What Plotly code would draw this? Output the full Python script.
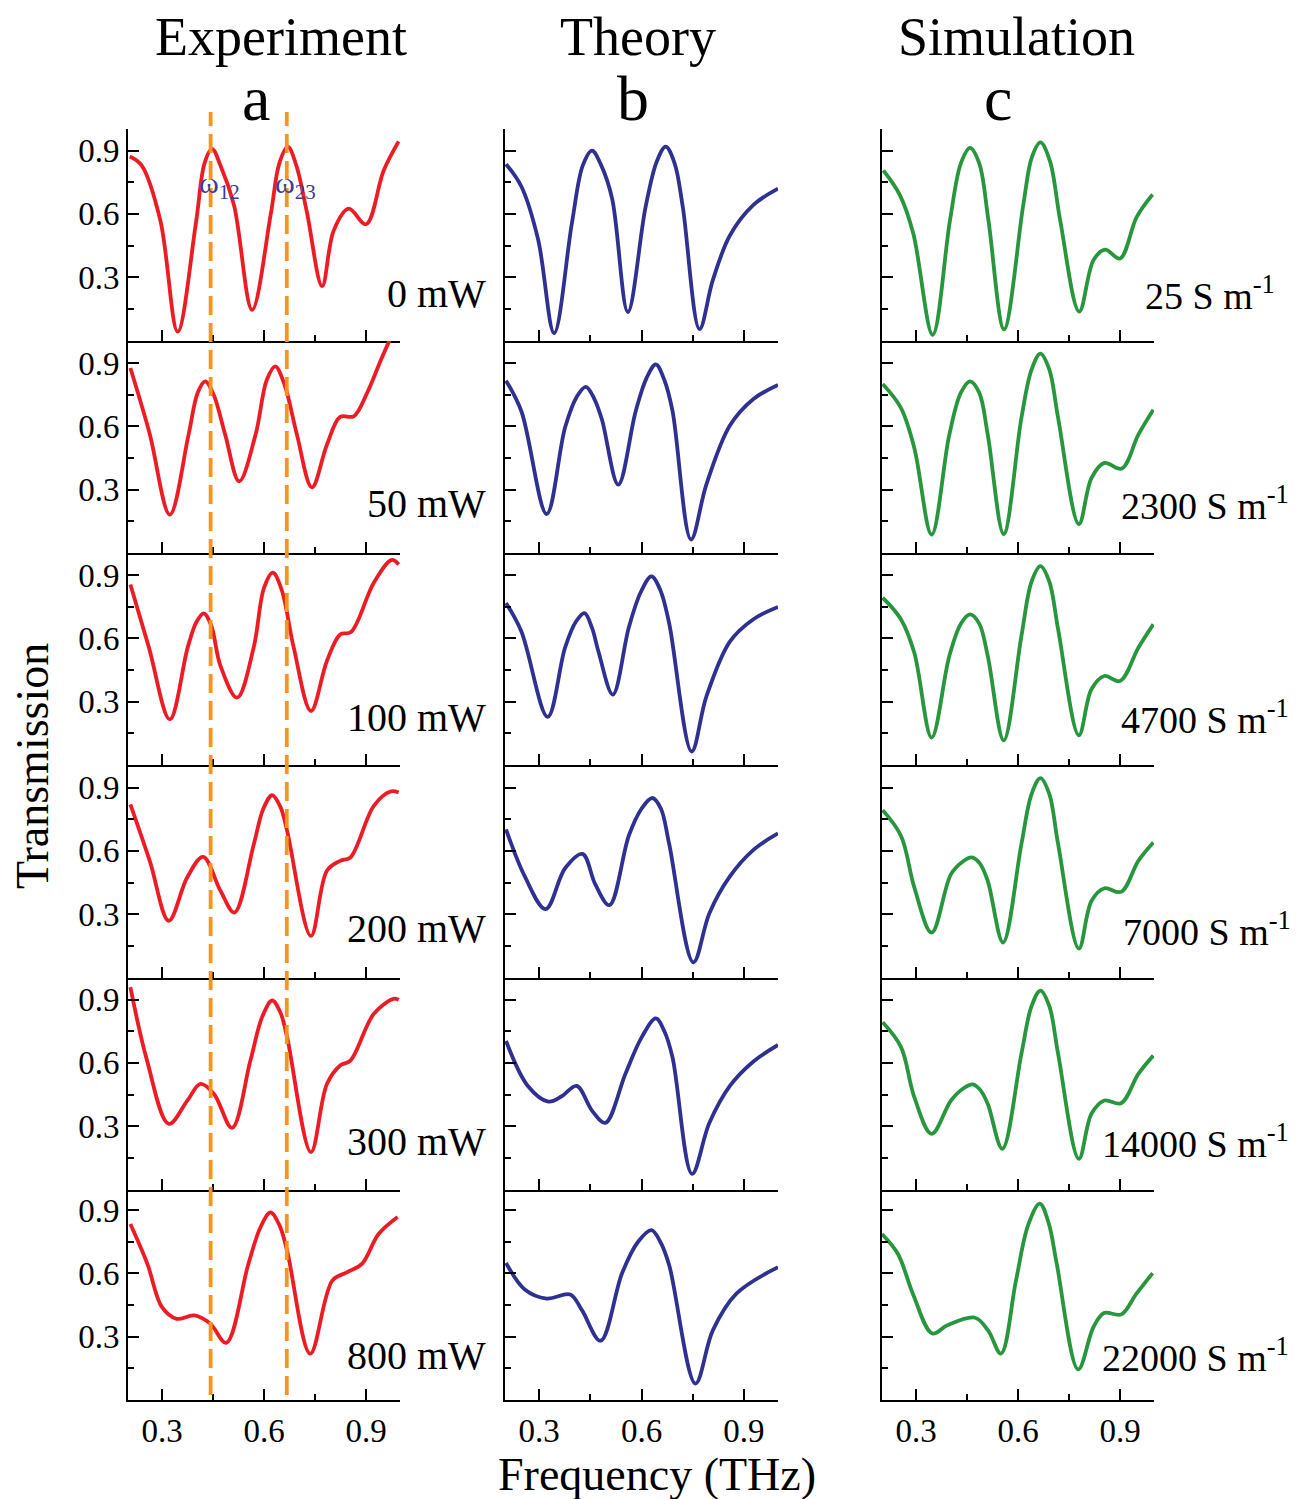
import plotly.graph_objects as go

# ---------------- data ----------------
# Column a: Experiment (frequency in THz, transmission)
exp_0_f = [0.205, 0.240, 0.295, 0.346, 0.400, 0.425, 0.447, 0.472, 0.512, 0.565, 0.620, 0.645, 0.670, 0.695, 0.726, 0.771, 0.805, 0.849, 0.900, 0.952, 0.996]
exp_0_t = [0.872, 0.830, 0.570, 0.042, 0.560, 0.840, 0.908, 0.830, 0.640, 0.145, 0.600, 0.840, 0.919, 0.830, 0.610, 0.258, 0.522, 0.625, 0.551, 0.806, 0.944]
exp_50_f = [0.207, 0.263, 0.323, 0.378, 0.405, 0.427, 0.452, 0.486, 0.527, 0.575, 0.608, 0.633, 0.660, 0.697, 0.741, 0.785, 0.824, 0.864, 0.903, 0.942, 0.975]
exp_50_t = [0.877, 0.570, 0.182, 0.560, 0.760, 0.814, 0.750, 0.560, 0.340, 0.560, 0.820, 0.885, 0.800, 0.560, 0.311, 0.513, 0.645, 0.648, 0.758, 0.908, 1.030]
exp_100_f = [0.207, 0.261, 0.323, 0.376, 0.402, 0.423, 0.445, 0.472, 0.521, 0.570, 0.600, 0.626, 0.652, 0.687, 0.738, 0.785, 0.824, 0.856, 0.923, 0.976, 0.996]
exp_100_t = [0.856, 0.560, 0.216, 0.560, 0.680, 0.719, 0.660, 0.470, 0.319, 0.560, 0.840, 0.912, 0.830, 0.560, 0.256, 0.493, 0.619, 0.630, 0.864, 0.972, 0.951]
exp_200_f = [0.207, 0.264, 0.320, 0.374, 0.421, 0.472, 0.513, 0.570, 0.598, 0.624, 0.648, 0.668, 0.738, 0.785, 0.824, 0.854, 0.923, 0.972, 0.996]
exp_200_t = [0.821, 0.553, 0.269, 0.474, 0.572, 0.411, 0.308, 0.632, 0.800, 0.864, 0.810, 0.695, 0.197, 0.506, 0.553, 0.569, 0.814, 0.882, 0.877]
exp_300_f = [0.207, 0.256, 0.320, 0.374, 0.413, 0.453, 0.506, 0.560, 0.595, 0.624, 0.648, 0.668, 0.738, 0.785, 0.824, 0.854, 0.923, 0.981, 0.996]
exp_300_t = [0.959, 0.611, 0.311, 0.420, 0.501, 0.453, 0.292, 0.611, 0.820, 0.896, 0.840, 0.722, 0.177, 0.500, 0.588, 0.611, 0.833, 0.904, 0.899]
exp_800_f = [0.207, 0.257, 0.300, 0.343, 0.395, 0.442, 0.489, 0.554, 0.590, 0.619, 0.645, 0.668, 0.736, 0.801, 0.845, 0.888, 0.937, 0.993]
exp_800_t = [0.834, 0.645, 0.440, 0.385, 0.401, 0.362, 0.271, 0.645, 0.820, 0.889, 0.830, 0.708, 0.220, 0.566, 0.606, 0.645, 0.787, 0.868]

# Column b: Theory
th_0_f = [0.203, 0.248, 0.297, 0.344, 0.396, 0.428, 0.455, 0.482, 0.514, 0.560, 0.612, 0.645, 0.671, 0.697, 0.721, 0.770, 0.809, 0.859, 0.928, 1.000]
th_0_t = [0.836, 0.730, 0.479, 0.035, 0.556, 0.830, 0.900, 0.830, 0.672, 0.135, 0.633, 0.850, 0.919, 0.840, 0.633, 0.054, 0.286, 0.498, 0.643, 0.720]
th_50_f = [0.203, 0.248, 0.322, 0.376, 0.410, 0.437, 0.462, 0.484, 0.532, 0.583, 0.615, 0.642, 0.667, 0.691, 0.745, 0.790, 0.859, 0.928, 1.000]
th_50_t = [0.817, 0.672, 0.185, 0.595, 0.740, 0.788, 0.730, 0.633, 0.324, 0.672, 0.830, 0.894, 0.820, 0.672, 0.064, 0.324, 0.604, 0.730, 0.797]
th_100_f = [0.203, 0.248, 0.325, 0.376, 0.408, 0.433, 0.455, 0.474, 0.516, 0.563, 0.598, 0.629, 0.655, 0.681, 0.747, 0.790, 0.859, 0.928, 1.000]
th_100_t = [0.768, 0.633, 0.228, 0.556, 0.680, 0.720, 0.650, 0.537, 0.334, 0.653, 0.820, 0.894, 0.830, 0.672, 0.064, 0.324, 0.585, 0.691, 0.749]
th_200_f = [0.203, 0.258, 0.319, 0.376, 0.427, 0.465, 0.506, 0.563, 0.600, 0.632, 0.657, 0.681, 0.752, 0.799, 0.859, 0.928, 1.000]
th_200_t = [0.702, 0.479, 0.324, 0.518, 0.586, 0.440, 0.343, 0.673, 0.800, 0.851, 0.800, 0.634, 0.072, 0.305, 0.479, 0.605, 0.683]
th_300_f = [0.203, 0.267, 0.327, 0.366, 0.410, 0.455, 0.494, 0.553, 0.600, 0.642, 0.667, 0.691, 0.748, 0.799, 0.859, 0.928, 1.000]
th_300_t = [0.704, 0.491, 0.417, 0.442, 0.491, 0.374, 0.316, 0.549, 0.720, 0.811, 0.750, 0.626, 0.074, 0.316, 0.491, 0.607, 0.685]
th_800_f = [0.203, 0.258, 0.322, 0.391, 0.425, 0.480, 0.543, 0.590, 0.629, 0.655, 0.681, 0.758, 0.809, 0.878, 1.000]
th_800_t = [0.650, 0.524, 0.481, 0.500, 0.427, 0.281, 0.601, 0.750, 0.805, 0.750, 0.640, 0.078, 0.330, 0.504, 0.630]

# Column c: Simulation
sim_25_f = [0.204, 0.253, 0.292, 0.349, 0.400, 0.432, 0.459, 0.486, 0.513, 0.559, 0.616, 0.641, 0.666, 0.694, 0.724, 0.780, 0.822, 0.856, 0.900, 0.949, 0.996]
sim_25_t = [0.806, 0.688, 0.507, 0.027, 0.570, 0.840, 0.913, 0.840, 0.570, 0.053, 0.648, 0.870, 0.939, 0.850, 0.570, 0.137, 0.381, 0.431, 0.389, 0.585, 0.692]
sim_2300_f = [0.202, 0.256, 0.295, 0.346, 0.398, 0.432, 0.459, 0.486, 0.511, 0.558, 0.610, 0.640, 0.666, 0.692, 0.718, 0.779, 0.816, 0.854, 0.905, 0.954, 0.998]
sim_2300_t = [0.801, 0.687, 0.498, 0.087, 0.561, 0.760, 0.814, 0.760, 0.561, 0.090, 0.640, 0.870, 0.945, 0.870, 0.640, 0.137, 0.355, 0.427, 0.400, 0.561, 0.679]
sim_4700_f = [0.202, 0.256, 0.295, 0.346, 0.398, 0.432, 0.459, 0.486, 0.511, 0.558, 0.610, 0.640, 0.666, 0.692, 0.718, 0.779, 0.816, 0.854, 0.900, 0.954, 0.998]
sim_4700_t = [0.793, 0.690, 0.532, 0.130, 0.517, 0.670, 0.714, 0.670, 0.517, 0.117, 0.611, 0.870, 0.943, 0.870, 0.643, 0.141, 0.359, 0.422, 0.398, 0.556, 0.667]
sim_7000_f = [0.202, 0.256, 0.295, 0.346, 0.403, 0.438, 0.464, 0.488, 0.511, 0.556, 0.610, 0.640, 0.666, 0.692, 0.718, 0.779, 0.816, 0.854, 0.903, 0.954, 0.998]
sim_7000_t = [0.793, 0.671, 0.427, 0.213, 0.490, 0.550, 0.569, 0.540, 0.458, 0.166, 0.632, 0.870, 0.945, 0.870, 0.632, 0.137, 0.363, 0.423, 0.406, 0.553, 0.640]
sim_14000_f = [0.202, 0.256, 0.295, 0.346, 0.403, 0.440, 0.467, 0.490, 0.511, 0.554, 0.610, 0.640, 0.666, 0.692, 0.718, 0.779, 0.816, 0.854, 0.903, 0.954, 0.998]
sim_14000_t = [0.793, 0.675, 0.438, 0.264, 0.422, 0.480, 0.498, 0.470, 0.406, 0.193, 0.643, 0.870, 0.943, 0.870, 0.643, 0.145, 0.359, 0.422, 0.409, 0.548, 0.635]
sim_22000_f = [0.200, 0.247, 0.291, 0.348, 0.392, 0.474, 0.512, 0.550, 0.594, 0.630, 0.664, 0.690, 0.714, 0.777, 0.822, 0.853, 0.904, 0.948, 0.996]
sim_22000_t = [0.787, 0.692, 0.503, 0.315, 0.354, 0.390, 0.330, 0.220, 0.566, 0.830, 0.931, 0.840, 0.645, 0.145, 0.346, 0.412, 0.406, 0.503, 0.601]

col_titles = ["Experiment", "Theory", "Simulation"]
col_letters = ["a", "b", "c"]
exp_labels = ["0 mW", "50 mW", "100 mW", "200 mW", "300 mW", "800 mW"]
sim_labels = ["25 S m<sup>-1</sup>", "2300 S m<sup>-1</sup>", "4700 S m<sup>-1</sup>",
              "7000 S m<sup>-1</sup>", "14000 S m<sup>-1</sup>", "22000 S m<sup>-1</sup>"]
tick_vals = [0.3, 0.6, 0.9]
tick_text = ["0.3", "0.6", "0.9"]
minor_x = [0.45, 0.75]
minor_y = [0.15, 0.45, 0.75]
omega_freqs = [0.443, 0.667]
omega_labels = ["ω<sub>12</sub>", "ω<sub>23</sub>"]

curves = [
    [(exp_0_f, exp_0_t), (exp_50_f, exp_50_t), (exp_100_f, exp_100_t),
     (exp_200_f, exp_200_t), (exp_300_f, exp_300_t), (exp_800_f, exp_800_t)],
    [(th_0_f, th_0_t), (th_50_f, th_50_t), (th_100_f, th_100_t),
     (th_200_f, th_200_t), (th_300_f, th_300_t), (th_800_f, th_800_t)],
    [(sim_25_f, sim_25_t), (sim_2300_f, sim_2300_t), (sim_4700_f, sim_4700_t),
     (sim_7000_f, sim_7000_t), (sim_14000_f, sim_14000_t), (sim_22000_f, sim_22000_t)],
]

# ---------------- layout / style ----------------
W, H = 1311, 1499
FONT = "Liberation Serif"
colors = ["#ED1C24", "#2E3192", "#27963C"]
col_px = [(128, 400), (505, 778), (882, 1154)]
row_bottom = [340.5, 553, 765, 977.5, 1189.5, 1400]
row_h = 212
TICK_SIZE = 33

fig = go.Figure()
layout = dict(
    width=W, height=H, margin=dict(l=0, r=0, t=0, b=0),
    paper_bgcolor="white", plot_bgcolor="rgba(0,0,0,0)",
    showlegend=False, font=dict(family=FONT, color="black"),
)

for c in range(3):
    for r in range(6):
        k = r * 3 + c + 1
        sfx = "" if k == 1 else str(k)
        f, t = curves[c][r]
        fig.add_trace(go.Scatter(
            x=f, y=t, mode="lines", xaxis="x" + sfx, yaxis="y" + sfx,
            line=dict(color=colors[c], width=3.8, shape="spline", smoothing=1.0),
            hoverinfo="skip"))
        x0, x1 = col_px[c]
        b = row_bottom[r]
        layout["xaxis" + sfx] = dict(
            domain=[x0 / W, x1 / W], range=[0.2, 1.0], anchor="y" + sfx,
            showline=True, linecolor="black", linewidth=2, mirror=False,
            showgrid=False, zeroline=False,
            ticks="inside", ticklen=11, tickwidth=2, tickcolor="black",
            tickmode="array", tickvals=tick_vals, ticktext=tick_text,
            minor=dict(ticks="inside", ticklen=6, tickwidth=2, tickcolor="black",
                       tickmode="array", tickvals=minor_x, showgrid=False),
            showticklabels=(r == 5), tickfont=dict(family=FONT, size=TICK_SIZE, color="black"),
            fixedrange=True)
        layout["yaxis" + sfx] = dict(
            domain=[1 - b / H, 1 - (b - row_h) / H], range=[0, 1.005], anchor="x" + sfx,
            showline=True, linecolor="black", linewidth=2, mirror=False,
            showgrid=False, zeroline=False,
            ticks="inside", ticklen=11, tickwidth=2, tickcolor="black",
            tickmode="array", tickvals=tick_vals, ticktext=tick_text,
            minor=dict(ticks="inside", ticklen=6, tickwidth=2, tickcolor="black",
                       tickmode="array", tickvals=minor_y, showgrid=False),
            showticklabels=(c == 0), tickfont=dict(family=FONT, size=TICK_SIZE, color="black"),
            fixedrange=True)

fig.update_layout(**layout)

# dashed orange guide lines in column a
for fq in omega_freqs:
    fig.add_shape(type="line", xref="x", yref="paper", x0=fq, x1=fq,
                  y0=1 - 1395 / H, y1=1 - 112 / H, layer="above",
                  line=dict(color="#F7941D", width=3.8, dash="19px,8px"))

ann = []
title_x = [281, 638, 1017]
letter_x = [256, 633, 998]
for c in range(3):
    ann.append(dict(text=col_titles[c], x=title_x[c] / W, y=1 - 37 / H, xref="paper", yref="paper",
                    showarrow=False, xanchor="center", yanchor="middle",
                    font=dict(family=FONT, size=54, color="black")))
    ann.append(dict(text=col_letters[c], x=letter_x[c] / W, y=1 - 99 / H, xref="paper", yref="paper",
                    showarrow=False, xanchor="center", yanchor="middle",
                    font=dict(family=FONT, size=64, color="black")))

label_y = [293, 503, 717, 929, 1141, 1355]
sim_right = [1277, 1291, 1291, 1293, 1291, 1291]
for r in range(6):
    ann.append(dict(text=exp_labels[r], x=488 / W, y=1 - label_y[r] / H, xref="paper", yref="paper",
                    showarrow=False, xanchor="right", yanchor="middle",
                    font=dict(family=FONT, size=40, color="black")))
    ann.append(dict(text=sim_labels[r], x=sim_right[r] / W, y=1 - label_y[r] / H, xref="paper", yref="paper",
                    showarrow=False, xanchor="right", yanchor="middle",
                    font=dict(family=FONT, size=38, color="black")))

omega_px = [220, 295]
for i in range(2):
    ann.append(dict(text=omega_labels[i], x=omega_px[i] / W, y=1 - 185 / H, xref="paper", yref="paper",
                    showarrow=False, xanchor="center", yanchor="middle",
                    font=dict(family=FONT, size=30, color="#3A3D98")))

ann.append(dict(text="Transmission", x=33 / W, y=1 - 766 / H, xref="paper", yref="paper",
                showarrow=False, textangle=-90, xanchor="center", yanchor="middle",
                font=dict(family=FONT, size=46, color="black")))
ann.append(dict(text="Frequency (THz)", x=657 / W, y=1 - 1474 / H, xref="paper", yref="paper",
                showarrow=False, xanchor="center", yanchor="middle",
                font=dict(family=FONT, size=46, color="black")))

fig.update_layout(annotations=ann)
fig.write_html("out.html")
